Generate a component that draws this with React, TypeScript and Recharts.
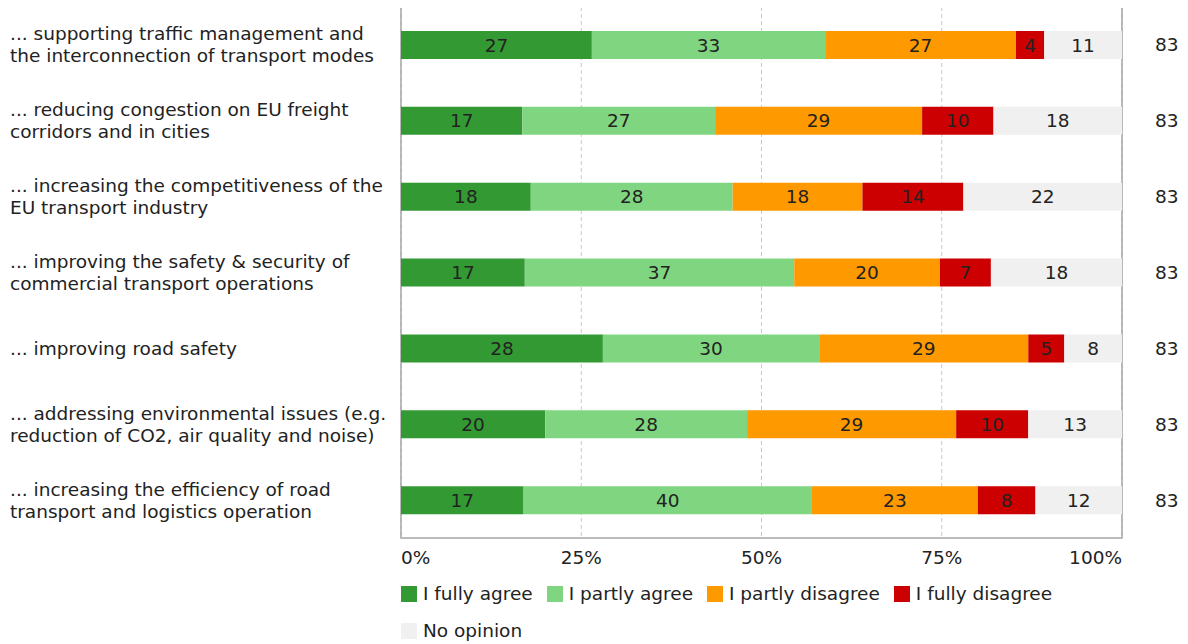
import {
  Bar,
  BarChart,
  CartesianGrid,
  LabelList,
  Legend,
  ReferenceArea,
  XAxis,
  YAxis,
} from "recharts";

const categories = [
  "... supporting traffic management and\nthe interconnection of transport modes",
  "... reducing congestion on EU freight\ncorridors and in cities",
  "... increasing the competitiveness of the\nEU transport industry",
  "... improving the safety & security of\ncommercial transport operations",
  "... improving road safety",
  "... addressing environmental issues (e.g.\nreduction of CO2, air quality and noise)",
  "... increasing the efficiency of road\ntransport and logistics operation",
];

const fullyAgree = [27, 17, 18, 17, 28, 20, 17];
const partlyAgree = [33, 27, 28, 37, 30, 28, 40];
const partlyDisagree = [27, 29, 18, 20, 29, 29, 23];
const fullyDisagree = [4, 10, 14, 7, 5, 10, 8];
const noOpinion = [11, 18, 22, 18, 8, 13, 12];
const respondents = [83, 83, 83, 83, 83, 83, 83];

const xTicks = [0, 0.25, 0.5, 0.75, 1];
const xTickLabels = ["0%", "25%", "50%", "75%", "100%"];

const series = [
  { key: "fa", name: "I fully agree", color: "#339933" },
  { key: "pa", name: "I partly agree", color: "#80d680" },
  { key: "pd", name: "I partly disagree", color: "#ff9900" },
  { key: "fd", name: "I fully disagree", color: "#cc0000" },
  { key: "no", name: "No opinion", color: "#f0f0f0" },
];

const data = categories.map((label, i) => ({
  label,
  fa: fullyAgree[i],
  pa: partlyAgree[i],
  pd: partlyDisagree[i],
  fd: fullyDisagree[i],
  no: noOpinion[i],
  n: respondents[i],
}));

const FONT = "'DejaVu Sans', Verdana, sans-serif";
const SIZE = 18.5;
const TEXT = "#222";

function CategoryTick({ y, payload }: any) {
  const lines = String(payload.value).split("\n");
  const start = -((lines.length - 1) * 22) / 2;
  return (
    <text x={2} y={y} fill={TEXT} fontSize={SIZE} fontFamily={FONT} textAnchor="start">
      {lines.map((l, i) => (
        <tspan key={i} x={2} y={y + start + i * 22} dy="0.35em">
          {l}
        </tspan>
      ))}
    </text>
  );
}

function CountTick({ x, y, index }: any) {
  return (
    <text x={x + 33} y={y} dy="0.35em" fill={TEXT} fontSize={SIZE} fontFamily={FONT}>
      {respondents[index]}
    </text>
  );
}

function PercentTick({ x, y, index }: any) {
  const anchor = index === 0 ? "start" : index === xTicks.length - 1 ? "end" : "middle";
  return (
    <text x={x} y={y + 20} dy="0.35em" fill={TEXT} fontSize={SIZE} fontFamily={FONT} textAnchor={anchor}>
      {xTickLabels[index]}
    </text>
  );
}

function LegendBox() {
  return (
    <div
      style={{
        height: 70,
        paddingTop: 1,
        paddingLeft: 393,
        display: "flex",
        flexWrap: "wrap",
        alignContent: "flex-start",
        width: 720,
        fontFamily: FONT,
        fontSize: SIZE,
        color: TEXT,
      }}
    >
      {series.map((s) => (
        <div key={s.key} style={{ display: "flex", alignItems: "center", height: 37, marginRight: 14 }}>
          <span style={{ width: 16, height: 16, background: s.color, marginRight: 6, display: "inline-block" }} />
          <span>{s.name}</span>
        </div>
      ))}
    </div>
  );
}

export default function App() {
  return (
    <div style={{ marginTop: -1 }}>
      <BarChart
        width={1172}
        height={638}
        data={data}
        layout="vertical"
        stackOffset="expand"
        margin={{ top: 0, right: 0, bottom: 0, left: 0 }}
      >
        <CartesianGrid horizontal={false} stroke="#c8c8c8" strokeDasharray="4 3" />
        <XAxis
          type="number"
          domain={[0, 1]}
          ticks={xTicks}
          tick={<PercentTick />}
          tickSize={0}
          tickMargin={0}
          axisLine={false}
          height={36}
        />
        <YAxis
          yAxisId="left"
          type="category"
          dataKey="label"
          width={393}
          tick={<CategoryTick />}
          tickLine={false}
          axisLine={false}
          interval={0}
        />
        <YAxis
          yAxisId="right"
          orientation="right"
          type="category"
          dataKey="label"
          width={58}
          tick={<CountTick />}
          tickSize={0}
          tickMargin={0}
          tickLine={false}
          axisLine={false}
          interval={0}
        />
        {series.map((s) => (
          <Bar
            key={s.key}
            yAxisId="left"
            dataKey={s.key}
            name={s.name}
            stackId="a"
            fill={s.color}
            barSize={28}
            isAnimationActive={false}
          >
            <LabelList dataKey={s.key} position="center" fill={TEXT} fontSize={SIZE} fontFamily={FONT} />
          </Bar>
        ))}
        <ReferenceArea yAxisId="left" x1={0} x2={1} fill="none" stroke="#a6a6a6" strokeWidth={1.5} />
        <Legend verticalAlign="bottom" align="left" content={<LegendBox />} />
      </BarChart>
    </div>
  );
}
